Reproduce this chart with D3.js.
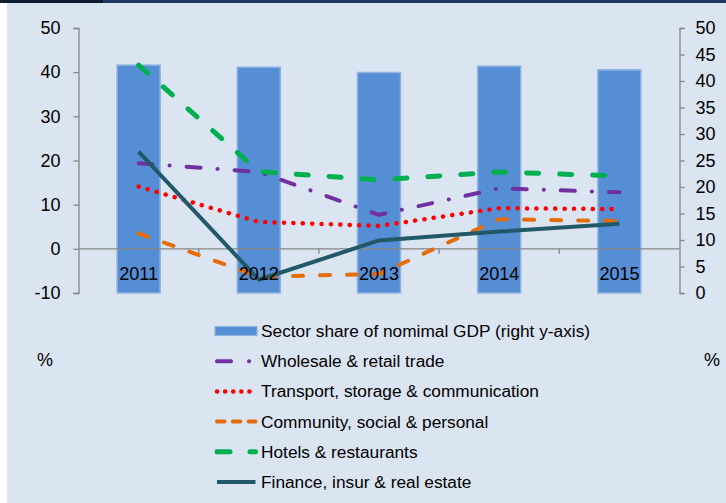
<!DOCTYPE html>
<html>
<head>
<meta charset="utf-8">
<script src="https://cdn.jsdelivr.net/npm/d3@7"></script>
<style>
  body { margin: 0; background: #dbe5f1; }
  svg { display: block; font-family: "Liberation Sans", Arial, sans-serif; }
</style>
</head>
<body>
<script>
// chart data
var years = ["2011", "2012", "2013", "2014", "2015"];
var gdpShare = [43.0, 42.6, 41.6, 42.8, 42.1];          // bars, right axis
var wholesale = [19.4, 17.4, 7.7, 13.7, 12.8];
var transport = [14.1, 6.1, 5.2, 9.2, 9.0];
var community = [3.5, -6.3, -5.7, 6.7, 6.3];
var hotels = [41.6, 17.5, 15.6, 17.4, 16.5];
var finance = [22.0, -7.0, 1.9, 3.9, 5.7];
var leftTicks = [-10, 0, 10, 20, 30, 40, 50];
var rightTicks = [0, 5, 10, 15, 20, 25, 30, 35, 40, 45, 50];

var seriesNames = ["Wholesale & retail trade", "Transport, storage & communication",
  "Community, social & personal", "Hotels & restaurants", "Finance, insur & real estate"];
var seriesValues = [wholesale, transport, community, hotels, finance];
var barName = "Sector share of nomimal GDP (right y-axis)";

// look of each line (legend swatches use their own short pattern)
var styles = [
  {color: "#7030a0", width: 4, dash: "14 17 0.1 17", legDash: "14 18 0.1 40", cap: "round"},
  {color: "#ff0000", width: 4.5, dash: "0.1 9.3", legDash: "0.1 8", cap: "round"},
  {color: "#e46c0a", width: 4, dash: "10 17", legDash: "7.5 8.3", cap: "round"},
  {color: "#00b050", width: 5, dash: "12 21", legDash: "13 20", cap: "round"},
  {color: "#215968", width: 4, dash: null, legDash: null, cap: "butt"}
];

var width = 726, height = 503;
var svg = d3.select("body").append("svg")
  .attr("width", width)
  .attr("height", height);

// frame bits
svg.append("rect").attr("width", width).attr("height", height).attr("fill", "#dbe5f1");
svg.append("rect").attr("x", 0).attr("y", 0).attr("width", 7).attr("height", height).attr("fill", "#ffffff");
svg.append("rect").attr("x", 0).attr("y", 0).attr("width", width).attr("height", 3).attr("fill", "#1f3864");
svg.append("rect").attr("x", 0).attr("y", 0).attr("width", 103).attr("height", 3).attr("fill", "#0c1a2e");

var x = d3.scaleBand().domain(years).range([78.5, 679.5]);
var yL = d3.scaleLinear().domain([-10, 50]).range([293, 28]);
var yR = d3.scaleLinear().domain([0, 50]).range([293, 28]);

// bars
svg.append("g").selectAll("rect").data(gdpShare)
  .enter().append("rect")
  .attr("x", (d, i) => x(years[i]) + x.bandwidth() / 2 - 21.5)
  .attr("width", 43)
  .attr("y", d => yR(d))
  .attr("height", d => yR(0) - yR(d))
  .attr("fill", "#558ed5")
  .attr("stroke", "#8fb2de")
  .attr("stroke-width", 1.5);

// axes
var axisColor = "#868686";
var gl = svg.append("g").attr("transform", "translate(78.5,0)")
  .call(d3.axisLeft(yL).tickValues(leftTicks).tickFormat(d => String(d)).tickSize(5).tickPadding(13));
var gr = svg.append("g").attr("transform", "translate(679.5,0)")
  .call(d3.axisRight(yR).tickValues(rightTicks).tickFormat(d => String(d)).tickSize(5).tickPadding(11));
[gl, gr].forEach(g => {
  g.select(".domain").attr("stroke", axisColor).attr("stroke-width", 1.3);
  g.selectAll(".tick line").attr("stroke", axisColor).attr("stroke-width", 1.3);
  g.selectAll("text").attr("font-size", 18).attr("fill", "#000")
    .attr("font-family", "Liberation Sans, Arial, sans-serif");
});

// category axis at 0 on the left scale
var gx = svg.append("g");
gx.append("line")
  .attr("x1", 78.5).attr("x2", 679.5)
  .attr("y1", yL(0)).attr("y2", yL(0))
  .attr("stroke", axisColor).attr("stroke-width", 1.3);
gx.selectAll("line.tk").data(years.slice(1))
  .enter().append("line").attr("class", "tk")
  .attr("x1", d => x(d)).attr("x2", d => x(d))
  .attr("y1", yL(0)).attr("y2", yL(0) + 5)
  .attr("stroke", axisColor).attr("stroke-width", 1.3);

// lines
var line = d3.line()
  .x((d, i) => x(years[i]) + x.bandwidth() / 2)
  .y(d => yL(d));
svg.append("g").selectAll("path").data(seriesValues)
  .enter().append("path")
  .attr("d", d => line(d))
  .attr("fill", "none")
  .attr("stroke", (d, i) => styles[i].color)
  .attr("stroke-width", (d, i) => styles[i].width)
  .attr("stroke-dasharray", (d, i) => styles[i].dash)
  .attr("stroke-linecap", (d, i) => styles[i].cap)
  .attr("stroke-linejoin", "round");

// year labels sit over the bars
svg.append("g").selectAll("text").data(years)
  .enter().append("text")
  .attr("x", d => x(d) + x.bandwidth() / 2)
  .attr("y", 280)
  .attr("text-anchor", "middle")
  .attr("font-size", 18)
  .text(d => d);

// % units
svg.append("text").attr("x", 45).attr("y", 366).attr("text-anchor", "middle")
  .attr("font-size", 18).text("%");
svg.append("text").attr("x", 712).attr("y", 366).attr("text-anchor", "middle")
  .attr("font-size", 18).text("%");

// legend
var lg = svg.append("g");
var rowY = d3.scaleLinear().domain([0, 5]).range([331, 482]);
lg.append("rect").attr("x", 215).attr("y", rowY(0) - 4.5).attr("width", 42).attr("height", 9)
  .attr("fill", "#558ed5").attr("stroke", "#8fb2de").attr("stroke-width", 1.2);
lg.append("text").attr("x", 261).attr("y", rowY(0) + 6).attr("font-size", 17.3).text(barName);

seriesNames.forEach((name, i) => {
  var s = styles[i];
  lg.append("line")
    .attr("x1", 217).attr("x2", 255.5)
    .attr("y1", rowY(i + 1)).attr("y2", rowY(i + 1))
    .attr("stroke", s.color).attr("stroke-width", s.width)
    .attr("stroke-dasharray", s.legDash)
    .attr("stroke-linecap", s.cap);
  lg.append("text").attr("x", 261).attr("y", rowY(i + 1) + 6)
    .attr("font-size", 17.3).text(name);
});
</script>
</body>
</html>
